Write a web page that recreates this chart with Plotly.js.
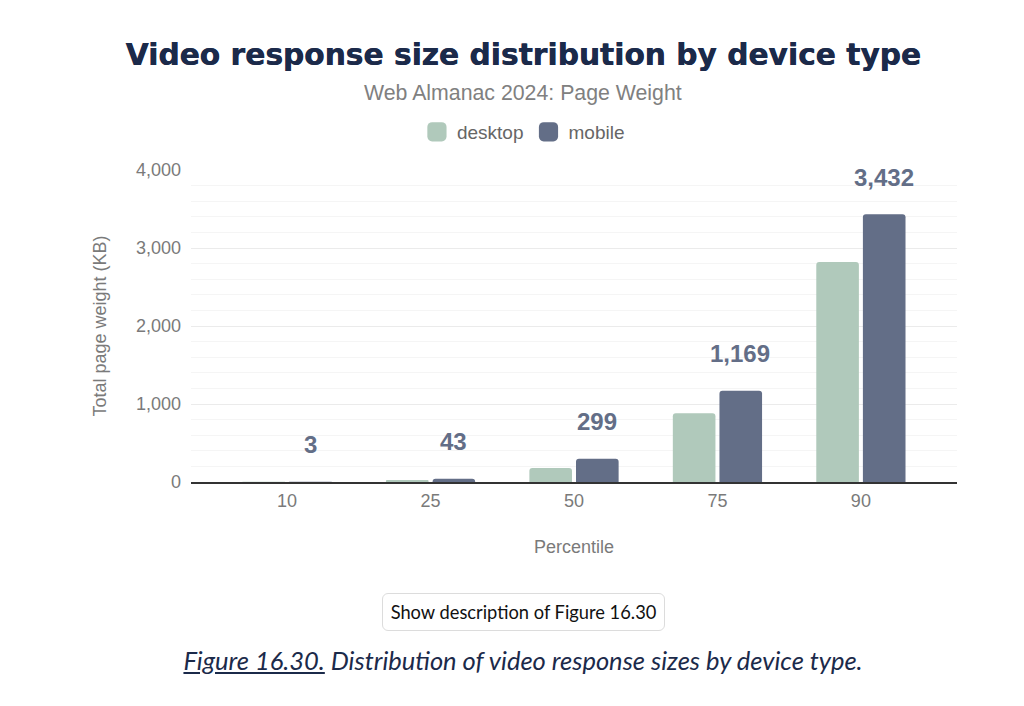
<!DOCTYPE html>
<html>
<head>
<meta charset="utf-8">
<script src="https://cdn.plot.ly/plotly-3.0.1.min.js"></script>
<style>
  body { margin: 0; background: #fff; }
  #chart { position: absolute; left: 0; top: 0; width: 1024px; height: 706px; }
  .descBtn {
    position: absolute; left: 382px; top: 593px; width: 281px; height: 36px;
    border: 1px solid #dcdcdc; border-radius: 6px; background: #fff;
    font-family: Lato, sans-serif; font-size: 18.3px; color: #111;
    display: flex; align-items: center; justify-content: center;
  }
  .caption {
    position: absolute; left: 0; width: 1046px; top: 645px; text-align: center;
    font-family: Lato, sans-serif; font-style: italic; font-size: 25.5px; color: #1b2a4a;
  }
  .caption span { text-decoration: underline; }
</style>
</head>
<body>
<div id="chart"></div>
<div class="descBtn">Show description of Figure 16.30</div>
<div class="caption"><span>Figure 16.30.</span> Distribution of video response sizes by device type.</div>
<script>
// Percentiles
const percentiles = ['10', '25', '50', '75', '90'];
const desktopKB = [2, 25, 180, 880, 2820];
const mobileKB = [3, 43, 299, 1169, 3432];
const mobileLabels = ['3', '43', '299', '1,169', '3,432'];

const grey = '#7a7a7a';
const corFonte = {family: 'Liberation Sans, Arial, sans-serif', size: 18, color: grey};

var desktop = {
    x: percentiles,
    y: desktopKB,
    type: 'bar',
    name: 'desktop',
    marker: {color: '#b0c9bb'},
    hoverinfo: 'none'
};

var mobile = {
    x: percentiles,
    y: mobileKB,
    type: 'bar',
    name: 'mobile',
    marker: {color: '#636e87'},
    hoverinfo: 'none'
};

// labels above the mobile bars (category axis -> use the index)
var rotulos = mobileKB.map((v, i) => ({
    x: i,
    y: v,
    xshift: 23,
    yshift: 37,
    yanchor: 'middle',
    text: '<b>' + mobileLabels[i] + '</b>',
    showarrow: false,
    font: {family: 'Liberation Sans, Arial, sans-serif', size: 24, color: '#636e87'}
}));

rotulos.push({
    xref: 'paper', yref: 'paper',
    x: 0.434, y: 1.247, yanchor: 'middle',
    text: 'Web Almanac 2024: Page Weight',
    showarrow: false,
    font: {family: 'Liberation Sans, Arial, sans-serif', size: 21.3, color: '#808080'}
});

var layout = {
    width: 1024,
    height: 706,
    margin: {l: 191, r: 67, t: 170, b: 224},
    paper_bgcolor: '#fff',
    plot_bgcolor: '#fff',
    title: {
        text: '<b>Video response size distribution by device type</b>',
        xref: 'container', yref: 'container',
        x: 0.511, y: 1 - 55 / 706, xanchor: 'center', yanchor: 'middle',
        font: {family: 'DejaVu Sans, sans-serif', size: 29.7, color: '#1b2a4a',
               shadow: '0.5px 0 0 #1b2a4a'}
    },
    barmode: 'group',
    bargap: 0.35,
    bargroupgap: 0.086,
    barcornerradius: 3,
    showlegend: true,
    legend: {
        orientation: 'h',
        x: 0.434, xanchor: 'center',
        y: 1.122, yanchor: 'middle',
        font: {family: 'Liberation Sans, Arial, sans-serif', size: 19, color: '#666'},
        itemwidth: 30
    },
    xaxis: {
        type: 'category',
        range: [-0.67, 4.67],
        showgrid: false,
        showline: true,
        linecolor: '#333',
        linewidth: 2,
        ticks: '',
        ticklabelstandoff: 1,
        tickfont: corFonte,
        title: {text: 'Percentile', font: corFonte, standoff: 31},
        fixedrange: true
    },
    yaxis: {
        range: [0, 4000],
        dtick: 1000,
        tickformat: ',',
        showgrid: true,
        gridcolor: '#ebebeb',
        zeroline: false,
        ticks: '',
        ticklabelstandoff: 9,
        tickfont: corFonte,
        minor: {dtick: 200, showgrid: true, gridcolor: '#f5f5f5'},
        title: {text: 'Total page weight (KB)', font: corFonte, standoff: 24},
        fixedrange: true
    },
    annotations: rotulos
};

Plotly.newPlot('chart', [desktop, mobile], layout, {displayModeBar: false, staticPlot: true}).then(function () {
    // bigger legend swatches
    document.querySelectorAll('.legendpoints path').forEach(p => {
        var t = p.getAttribute('transform') || '';
        p.setAttribute('transform', t + ' scale(1.6)');
    });
});
</script>
</body>
</html>
